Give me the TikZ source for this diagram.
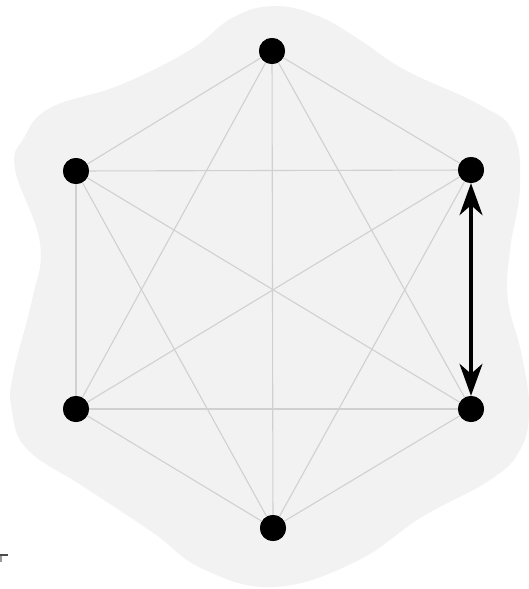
\documentclass[tikz,border=0pt]{standalone}
\usetikzlibrary{arrows.meta}
\definecolor{blobgray}{HTML}{F2F2F2}
\definecolor{edgegray}{HTML}{D0D0D0}
\begin{document}
\begin{tikzpicture}[x=1pt,y=-1pt,
  dot/.style={circle,fill=black,inner sep=0pt,minimum size=26pt},
  edge/.style={draw=edgegray,line width=1.1pt},
  bigarrow/.style={draw=black,line width=3.2pt,{Stealth[length=32pt,width=23pt,inset=10pt]}-{Stealth[length=32pt,width=23pt,inset=10pt]}}]
\useasboundingbox (0,0) rectangle (529,589);
\fill[blobgray] plot[smooth cycle,tension=0.7] coordinates {
 (274,6) (318,16) (360,40) (405,70) (480,105) (513,132) (520,187) (510,250) (508,300)
 (522,356) (529,410) (520,450) (490,480) (422,517) (355,562) (274,587)
 (203,569) (152,532) (84,487) (27,449) (12,410) (13,375) (32,300) (40,243)
 (15,169) (24,138) (50,108) (120,85) (190,50) (232,18)};
\node[dot] (t)  at (272,51) {};
\node[dot] (ul) at (76,171) {};
\node[dot] (ur) at (471,170) {};
\node[dot] (ll) at (76,409) {};
\node[dot] (lr) at (471,409) {};
\node[dot] (b)  at (273,528) {};
\foreach \a/\c in {t/ul,t/ur,t/ll,t/lr,t/b,ul/ur,ul/ll,ul/lr,ul/b,ur/ll,ur/b,ll/lr,ll/b,lr/b}
  \draw[edge] (\a.center) -- (\c.center);
\foreach \n in {t,ul,ur,ll,lr,b} \fill (\n) circle (13pt);
\draw[bigarrow] (ur) -- (lr);
\draw[draw=black!70,line width=2.5pt] (0,555) -- (8,555);
\draw[draw=black!40,line width=1.5pt] (1,556) -- (1,562);
\end{tikzpicture}
\end{document}
